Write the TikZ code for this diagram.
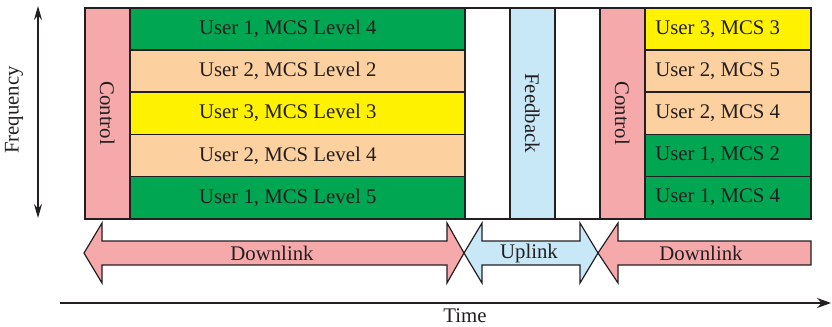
\documentclass[tikz,border=0pt]{standalone}
\usepackage{fontspec}
\setmainfont{Liberation Serif}
\usetikzlibrary{arrows.meta}

\definecolor{ctrlpink}{RGB}{246,169,171}
\definecolor{mcsgreen}{RGB}{0,166,81}
\definecolor{mcspeach}{RGB}{253,208,160}
\definecolor{mcsyellow}{RGB}{255,242,0}
\definecolor{fbblue}{RGB}{200,232,248}
\definecolor{edge}{RGB}{35,31,32}

\tikzset{
  slot/.style={draw=edge, line width=0.75pt, inner sep=0pt, anchor=north west,
    text=edge},
  vslot/.style={slot, minimum width=22.5pt, minimum height=105.5pt},
  rowL/.style={slot, minimum width=167.5pt, minimum height=21.1pt,
    execute at begin node=\hspace*{-9.5pt}},
  rowR/.style={slot, minimum width=83pt, minimum height=21.1pt,
    execute at begin node=\hspace*{-10pt}},
  link/.style={draw=edge, line width=0.6pt},
  axis/.style={draw=edge, line width=0.7pt},
}

\begin{document}
\begin{tikzpicture}[x=0.5pt, y=-0.5pt, font=\fontsize{10.4}{12}\selectfont]
  \useasboundingbox (0,0) rectangle (832,327);

  % first downlink part
  \node[vslot, fill=ctrlpink] (ctrl1) at (84,7) {\rotatebox{-90}{Control}};
  \node[rowL, fill=mcsgreen] (a1) at (129,7) {User 1, MCS Level 4};
  \node[rowL, fill=mcspeach] (a2) at (129,49.2) {User 2, MCS Level 2};
  \node[rowL, fill=mcsyellow] (a3) at (129,91.4) {User 3, MCS Level 3};
  \node[rowL, fill=mcspeach] (a4) at (129,133.6) {User 2, MCS Level 4};
  \node[rowL, fill=mcsgreen] (a5) at (129,175.8) {User 1, MCS Level 5};

  % uplink part
  \node[vslot, fill=white] (gap1) at (464,7) {};
  \node[vslot, fill=fbblue] (fb) at (509,7) {\rotatebox{-90}{Feedback}};
  \node[vslot, fill=white] (gap2) at (554,7) {};

  % second downlink part
  \node[vslot, fill=ctrlpink] (ctrl2) at (599,7) {\rotatebox{-90}{Control}};
  \node[rowR, fill=mcsyellow] (b1) at (644,7) {User 3, MCS 3};
  \node[rowR, fill=mcspeach] (b2) at (644,49.2) {User 2, MCS 5};
  \node[rowR, fill=mcspeach] (b3) at (644,91.4) {User 2, MCS 4};
  \node[rowR, fill=mcsgreen] (b4) at (644,133.6) {User 1, MCS 2};
  \node[rowR, fill=mcsgreen] (b5) at (644,175.8) {User 1, MCS 4};

  % link direction arrows
  \draw[link, fill=ctrlpink] (84,253) -- (102,223) -- (102,241) -- (447,241)
    -- (447,223) -- (464,253) -- (447,283) -- (447,265) -- (102,265)
    -- (102,283) -- cycle;
  \draw[link, fill=fbblue] (464,253) -- (482,223) -- (482,241) -- (580,241)
    -- (580,223) -- (598,253) -- (580,283) -- (580,265) -- (482,265)
    -- (482,283) -- cycle;
  \draw[link, fill=ctrlpink] (598,253) -- (618,223) -- (618,241) -- (811,241)
    -- (811,265) -- (618,265) -- (618,283) -- cycle;
  \node[text=edge] (dl1) at (272,253) {Downlink};
  \node[text=edge] (ul) at (529,253) {Uplink};
  \node[text=edge] (dl2) at (701,253) {Downlink};

  % axes
  \coordinate (f0) at (38,6);
  \coordinate (f1) at (38,218);
  \draw[axis, {Stealth[length=7pt,width=4pt]}-{Stealth[length=7pt,width=4pt]}] (f0) -- (f1);
  \node[text=edge, rotate=90] (freq) at (14,110) {Frequency};

  \coordinate (t0) at (60,303);
  \coordinate (t1) at (831,303);
  \draw[axis, -{Stealth[length=7pt,width=5pt]}] (t0) -- (t1);
  \node[text=edge] (time) at (465,316) {Time};
\end{tikzpicture}
\end{document}
